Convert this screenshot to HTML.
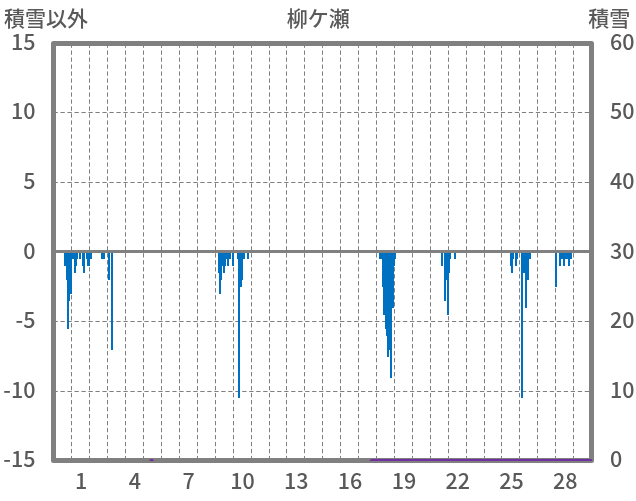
<!DOCTYPE html>
<html><head><meta charset="utf-8"><style>
html,body{margin:0;padding:0;background:#fff;}
body{width:636px;height:501px;overflow:hidden;}
svg{display:block;will-change:transform;}
.t text{font-family:"Noto Sans CJK JP","Liberation Sans",sans-serif;font-size:21.5px;font-weight:500;}
.t text.j{font-family:"Liberation Sans","Noto Sans CJK JP",sans-serif;font-size:21px;}
</style></head><body>
<svg width="636" height="501" viewBox="0 0 636 501">
<g stroke="#7f7f7f" stroke-width="1" stroke-dasharray="4.3 2.69" fill="none"><line x1="71.50" y1="43.50" x2="71.50" y2="460.50"/><line x1="89.50" y1="43.50" x2="89.50" y2="460.50"/><line x1="107.50" y1="43.50" x2="107.50" y2="460.50"/><line x1="125.50" y1="43.50" x2="125.50" y2="460.50"/><line x1="143.50" y1="43.50" x2="143.50" y2="460.50"/><line x1="161.50" y1="43.50" x2="161.50" y2="460.50"/><line x1="179.50" y1="43.50" x2="179.50" y2="460.50"/><line x1="197.50" y1="43.50" x2="197.50" y2="460.50"/><line x1="215.50" y1="43.50" x2="215.50" y2="460.50"/><line x1="233.50" y1="43.50" x2="233.50" y2="460.50"/><line x1="251.50" y1="43.50" x2="251.50" y2="460.50"/><line x1="269.50" y1="43.50" x2="269.50" y2="460.50"/><line x1="286.50" y1="43.50" x2="286.50" y2="460.50"/><line x1="304.50" y1="43.50" x2="304.50" y2="460.50"/><line x1="322.50" y1="43.50" x2="322.50" y2="460.50"/><line x1="340.50" y1="43.50" x2="340.50" y2="460.50"/><line x1="358.50" y1="43.50" x2="358.50" y2="460.50"/><line x1="376.50" y1="43.50" x2="376.50" y2="460.50"/><line x1="394.50" y1="43.50" x2="394.50" y2="460.50"/><line x1="412.50" y1="43.50" x2="412.50" y2="460.50"/><line x1="430.50" y1="43.50" x2="430.50" y2="460.50"/><line x1="448.50" y1="43.50" x2="448.50" y2="460.50"/><line x1="466.50" y1="43.50" x2="466.50" y2="460.50"/><line x1="484.50" y1="43.50" x2="484.50" y2="460.50"/><line x1="501.50" y1="43.50" x2="501.50" y2="460.50"/><line x1="519.50" y1="43.50" x2="519.50" y2="460.50"/><line x1="537.50" y1="43.50" x2="537.50" y2="460.50"/><line x1="555.50" y1="43.50" x2="555.50" y2="460.50"/><line x1="573.50" y1="43.50" x2="573.50" y2="460.50"/><line x1="53.50" y1="112.50" x2="591.50" y2="112.50"/><line x1="53.50" y1="182.50" x2="591.50" y2="182.50"/><line x1="53.50" y1="321.50" x2="591.50" y2="321.50"/><line x1="53.50" y1="391.50" x2="591.50" y2="391.50"/></g>
<rect x="53.5" y="43.5" width="538.00" height="417.00" fill="none" stroke="#808080" stroke-width="5" stroke-linejoin="round"/>
<g fill="#0070c0"><rect x="64" y="251" width="2" height="15"/><rect x="66" y="251" width="1" height="29"/><rect x="67" y="251" width="2" height="78"/><rect x="69" y="251" width="1" height="50"/><rect x="70" y="251" width="2" height="43"/><rect x="72" y="251" width="2" height="8"/><rect x="74" y="251" width="2" height="22"/><rect x="76" y="251" width="1" height="15"/><rect x="77" y="251" width="1" height="8"/><rect x="79" y="251" width="2" height="8"/><rect x="82" y="251" width="1" height="15"/><rect x="83" y="251" width="2" height="22"/><rect x="86" y="251" width="1" height="8"/><rect x="87" y="251" width="3" height="15"/><rect x="90" y="251" width="2" height="8"/><rect x="101" y="251" width="4" height="8"/><rect x="108" y="251" width="2" height="29"/><rect x="111" y="251" width="2" height="99"/><rect x="218" y="251" width="1" height="22"/><rect x="219" y="251" width="2" height="43"/><rect x="221" y="251" width="1" height="29"/><rect x="222" y="251" width="1" height="15"/><rect x="223" y="251" width="2" height="22"/><rect x="225" y="251" width="1" height="15"/><rect x="226" y="251" width="1" height="8"/><rect x="227" y="251" width="2" height="15"/><rect x="229" y="251" width="2" height="8"/><rect x="232" y="251" width="2" height="15"/><rect x="237" y="251" width="1" height="8"/><rect x="238" y="251" width="2" height="147"/><rect x="240" y="251" width="2" height="36"/><rect x="242" y="251" width="1" height="29"/><rect x="243" y="251" width="2" height="8"/><rect x="247" y="251" width="2" height="8"/><rect x="379" y="251" width="3" height="8"/><rect x="382" y="251" width="1" height="36"/><rect x="383" y="251" width="2" height="64"/><rect x="385" y="251" width="1" height="78"/><rect x="386" y="251" width="1" height="85"/><rect x="387" y="251" width="2" height="106"/><rect x="389" y="251" width="1" height="99"/><rect x="390" y="251" width="2" height="127"/><rect x="392" y="251" width="2" height="57"/><rect x="394" y="251" width="1" height="15"/><rect x="395" y="251" width="1" height="8"/><rect x="441" y="251" width="2" height="15"/><rect x="444" y="251" width="2" height="50"/><rect x="446" y="251" width="1" height="29"/><rect x="447" y="251" width="2" height="64"/><rect x="449" y="251" width="1" height="22"/><rect x="450" y="251" width="1" height="8"/><rect x="454" y="251" width="2" height="8"/><rect x="510" y="251" width="1" height="15"/><rect x="511" y="251" width="2" height="22"/><rect x="513" y="251" width="1" height="8"/><rect x="515" y="251" width="2" height="15"/><rect x="517" y="251" width="1" height="8"/><rect x="521" y="251" width="2" height="147"/><rect x="523" y="251" width="2" height="22"/><rect x="525" y="251" width="2" height="57"/><rect x="527" y="251" width="2" height="29"/><rect x="529" y="251" width="2" height="8"/><rect x="555" y="251" width="2" height="36"/><rect x="559" y="251" width="2" height="15"/><rect x="561" y="251" width="2" height="8"/><rect x="563" y="251" width="2" height="15"/><rect x="565" y="251" width="3" height="8"/><rect x="568" y="251" width="2" height="15"/><rect x="570" y="251" width="2" height="8"/></g>
<line x1="53.50" y1="251.5" x2="591.50" y2="251.5" stroke="#808080" stroke-width="2.8"/>
<g fill="#7030a0"><path d="M149,461 L150.6,459.1 L152.6,459.1 L154.2,461 Z"/><path d="M369,461 L371.3,459 L591.2,459 Q592.2,459 592.2,460 Q592.2,461 591.2,461 Z"/></g>
<g class="t" fill="#595959"><text x="35.5" y="40.00" text-anchor="end" dominant-baseline="central">15</text><text x="35.5" y="109.50" text-anchor="end" dominant-baseline="central">10</text><text x="35.5" y="179.00" text-anchor="end" dominant-baseline="central">5</text><text x="35.5" y="249.30" text-anchor="end" dominant-baseline="central">0</text><text x="35.5" y="318.00" text-anchor="end" dominant-baseline="central">-5</text><text x="35.5" y="388.70" text-anchor="end" dominant-baseline="central">-10</text><text x="35.5" y="457.00" text-anchor="end" dominant-baseline="central">-15</text><text x="610" y="40.00" text-anchor="start" dominant-baseline="central">60</text><text x="610" y="109.50" text-anchor="start" dominant-baseline="central">50</text><text x="610" y="179.00" text-anchor="start" dominant-baseline="central">40</text><text x="610" y="249.30" text-anchor="start" dominant-baseline="central">30</text><text x="610" y="318.00" text-anchor="start" dominant-baseline="central">20</text><text x="610" y="388.70" text-anchor="start" dominant-baseline="central">10</text><text x="610" y="457.00" text-anchor="start" dominant-baseline="central">0</text><text x="81.10" y="479.6" text-anchor="middle" dominant-baseline="central">1</text><text x="134.90" y="479.6" text-anchor="middle" dominant-baseline="central">4</text><text x="188.70" y="479.6" text-anchor="middle" dominant-baseline="central">7</text><text x="242.50" y="479.6" text-anchor="middle" dominant-baseline="central">10</text><text x="296.30" y="479.6" text-anchor="middle" dominant-baseline="central">13</text><text x="350.10" y="479.6" text-anchor="middle" dominant-baseline="central">16</text><text x="403.90" y="479.6" text-anchor="middle" dominant-baseline="central">19</text><text x="457.70" y="479.6" text-anchor="middle" dominant-baseline="central">22</text><text x="511.50" y="479.6" text-anchor="middle" dominant-baseline="central">25</text><text x="565.30" y="479.6" text-anchor="middle" dominant-baseline="central">28</text><text class="j" x="4" y="18.2" dominant-baseline="central">積雪以外</text><text class="j" x="318.2" y="18.2" text-anchor="middle" dominant-baseline="central">柳ケ瀬</text><text class="j" x="630.2" y="18.2" text-anchor="end" dominant-baseline="central">積雪</text></g>
</svg>
</body></html>
